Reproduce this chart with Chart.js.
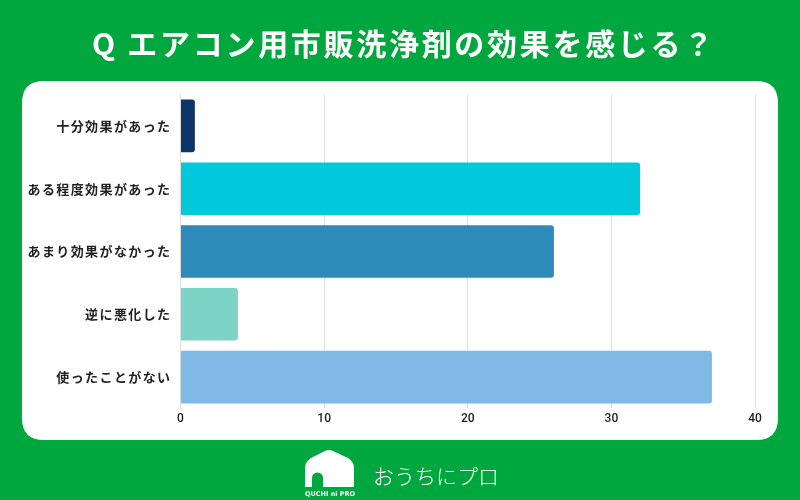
<!DOCTYPE html>
<html><head><meta charset="utf-8">
<script src="https://cdn.jsdelivr.net/npm/chart.js@4"></script>
<style>html,body{margin:0;padding:0;background:#00a73f;}#wrap{width:800px;height:500px;position:relative;}</style>
</head><body><div id="wrap"><canvas id="c" width="800" height="500"></canvas></div>
<script>
const titleText = "Q エアコン用市販洗浄剤の効果を感じる？";
const categories = ["十分効果があった","ある程度効果があった","あまり効果がなかった","逆に悪化した","使ったことがない"];
const values = [1, 32, 26, 4, 37];
const barColors = ["#0d3466","#00c9db","#2e8ab8","#7ed4c4","#7fb9e6"];
const xTicks = [0,10,20,30,40];

function rr(ctx,x,y,w,h,r){ctx.beginPath();ctx.moveTo(x+r,y);ctx.lineTo(x+w-r,y);ctx.quadraticCurveTo(x+w,y,x+w,y+r);ctx.lineTo(x+w,y+h-r);ctx.quadraticCurveTo(x+w,y+h,x+w-r,y+h);ctx.lineTo(x+r,y+h);ctx.quadraticCurveTo(x,y+h,x,y+h-r);ctx.lineTo(x,y+r);ctx.quadraticCurveTo(x,y,x+r,y);ctx.closePath();}

const deco = {
  id:'deco',
  beforeDraw(chart){
    const ys = chart.scales.y;
    if (ys && !ys._lsWrapped) {
      const orig = ys.drawLabels;
      ys.drawLabels = function(area){ const c=this.ctx; c.save(); c.letterSpacing='1.4px'; orig.call(this, area); c.restore(); };
      ys._lsWrapped = true;
    }
    const ctx = chart.ctx;
    ctx.save();
    ctx.fillStyle = '#00a73f';
    ctx.fillRect(0,0,800,500);
    ctx.fillStyle = '#ffffff';
    rr(ctx,22,81,756,359,22); ctx.fill();
    ctx.letterSpacing = '2.7px';
    ctx.font = 'bold 30px "Noto Sans CJK JP"';
    ctx.textAlign = 'center'; ctx.textBaseline = 'middle';
    ctx.fillText(titleText, 404, 44);
    ctx.letterSpacing = '0px';
    // logo house
    ctx.beginPath();
    ctx.moveTo(305,487); ctx.lineTo(305,468);
    ctx.quadraticCurveTo(305,462,311,458);
    ctx.lineTo(325,451); ctx.quadraticCurveTo(329,449,333,451);
    ctx.lineTo(348,458); ctx.quadraticCurveTo(354,462,354,468);
    ctx.lineTo(354,487); ctx.lineTo(323,487); ctx.lineTo(323,478);
    ctx.arc(317.5,478,5.5,0,Math.PI,true);
    ctx.lineTo(312,487);
    ctx.closePath(); ctx.fill();
    ctx.font = 'bold 6.5px "DejaVu Sans"';
    ctx.textAlign='left'; ctx.textBaseline='alphabetic';
    ctx.fillText('QUCHI ni PRO',305,496);
    ctx.font = '300 21px "Noto Sans CJK JP"';
    ctx.textBaseline='middle';
    ctx.fillText('おうちにプロ',373,476);
    ctx.restore();
  }
};

new Chart(document.getElementById('c'), {
  type:'bar',
  data:{labels:categories,datasets:[{data:values,backgroundColor:barColors,borderRadius:3,borderSkipped:'start',barPercentage:0.84,categoryPercentage:1}]},
  options:{
    indexAxis:'y', responsive:false, animation:false,
    layout:{padding:{left:22,right:45,top:94.6,bottom:67.6}},
    plugins:{legend:{display:false},tooltip:{enabled:false}},
    scales:{
      x:{min:0,max:40,afterBuildTicks(s){s.ticks=xTicks.map(v=>({value:v}));},
         afterFit(s){s.height=24;},
         grid:{color:'#dddddd',drawTicks:false},border:{display:false},
         ticks:{color:'#222',padding:3,font:{family:'Roboto',size:12,weight:'500'}}},
      y:{afterFit(s){s.width=158.5;},grid:{display:false,drawTicks:false},border:{display:true,color:'#dddddd'},
         ticks:{color:'#222',padding:9,font:{family:'"Noto Sans CJK JP"',size:13,weight:'bold'}}}
    }
  },
  plugins:[deco]
});
</script></body></html>
